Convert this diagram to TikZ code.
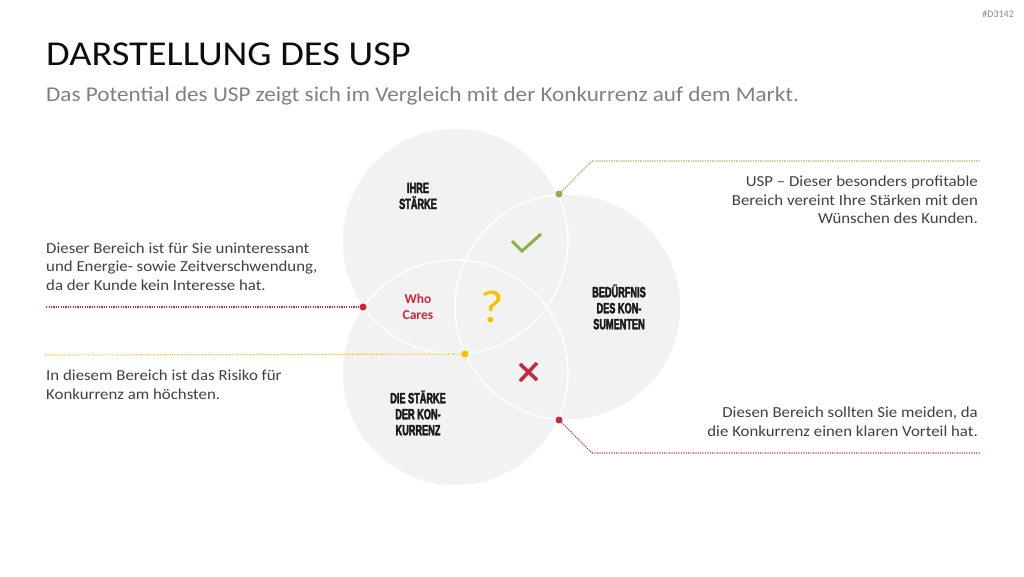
\documentclass[tikz,border=0pt]{standalone}
\usepackage{fontspec}
\setmainfont{Carlito}
\newfontfamily\leichtfont[FakeStretch=1.1]{Carlito}
\newfontfamily\kreisfont[FakeStretch=0.62, BoldFeatures={FakeBold=2.5}]{Liberation Sans}
\usepackage{xcolor}

\definecolor{kreisgrau}{HTML}{F2F2F2}
\definecolor{uspgruen}{HTML}{8CB04B}
\definecolor{warnrot}{HTML}{C8283C}
\definecolor{warngelb}{HTML}{F5C200}
\definecolor{textgrau}{HTML}{404040}

\tikzset{
  kreis/.style={fill=kreisgrau},
  kreisrand/.style={draw=white, line width=1.5pt},
  punkt/.style={circle, fill=#1, inner sep=0pt, minimum size=7pt},
  fuehrung/.style={draw=#1, line width=1.1pt, dash pattern=on 1.1pt off 1.3pt},
  kreistitel/.style={font=\kreisfont\bfseries\fontsize{14.8}{16}\selectfont,
    align=center, text=black!90, inner sep=0pt},
  infotext/.style={font=\leichtfont\fontsize{15.3}{18.5}\selectfont, text=textgrau, inner sep=0pt},
}

\begin{document}
\begin{tikzpicture}[x=1pt, y=-1pt]
  \useasboundingbox (0,0) rectangle (1024,576);

  % Kopfzeile
  \node[anchor=base west, inner sep=0pt, font=\leichtfont\fontsize{34.9}{40}\selectfont, text=black!95]
    (titel) at (46,65) {DARSTELLUNG DES USP};
  \node[anchor=base west, inner sep=0pt, font=\leichtfont\fontsize{21.05}{26}\selectfont, text=black!50]
    (untertitel) at (46,101) {Das Potential des USP zeigt sich im Vergleich mit der Konkurrenz auf dem Markt.};
  \node[anchor=base east, inner sep=0pt, font=\fontsize{10}{12}\selectfont, text=black!45]
    (kennung) at (1014,17) {\#D3142};

  % Mittelpunkte der drei Kreise
  \coordinate (mStaerke)    at (455,241);
  \coordinate (mBeduerfnis) at (568,307);
  \coordinate (mKonkurrenz) at (455,373);

  % Flaechen zuerst, weisse Raender darueber
  \foreach \m in {mStaerke,mBeduerfnis,mKonkurrenz}{
    \fill[kreis] (\m) circle[radius=113];
  }
  \foreach \m in {mStaerke,mBeduerfnis,mKonkurrenz}{
    \draw[kreisrand] (\m) circle[radius=113];
  }

  % Kreisbeschriftungen
  \node[kreistitel] (staerke)    at (418,196) {IHRE\\STÄRKE};
  \node[kreistitel] (beduerfnis) at (619,307) {BEDÜRFNIS\\DES KON-\\SUMENTEN};
  \node[kreistitel] (konkurrenz) at (418,413) {DIE STÄRKE\\DER KON-\\KURRENZ};

  % Schnittflaechen
  \node[font=\bfseries\fontsize{13.5}{16}\selectfont, text=warnrot, align=center, inner sep=0pt]
    (whocares) at (418,307) {Who\\Cares};
  \node[font=\leichtfont\fontsize{46}{46}\selectfont, text=warngelb, inner sep=0pt] (frage) at (492,307) {?};
  \draw[uspgruen, line width=3pt] (512,241) -- (522,251) -- (541,234);
  \draw[warnrot, line width=3.5pt] (520,364) -- (537,380) (537,363) -- (520,381);

  % Markierungspunkte auf den Schnittpunkten
  \node[punkt=uspgruen] (usp)    at (559,194) {};
  \node[punkt=warnrot]  (wc)     at (363,307) {};
  \node[punkt=warngelb] (risiko) at (465,354) {};
  \node[punkt=warnrot]  (meiden) at (559,420) {};

  % Endpunkte der Fuehrungslinien
  \coordinate (uspKnick)   at (592,161);
  \coordinate (uspEnde)    at (980,161);
  \coordinate (wcEnde)     at (45,307);
  \coordinate (risikoEnde) at (45,355);
  \coordinate (meidenKnick) at (592,453);
  \coordinate (meidenEnde)  at (980,453);

  \draw[fuehrung=uspgruen] (usp) -- (uspKnick) -- (uspEnde);
  \draw[fuehrung=warnrot]  (wc) -- (wcEnde);
  \draw[fuehrung=warngelb] (risiko) -- (risikoEnde);
  \draw[fuehrung=warnrot]  (meiden) -- (meidenKnick) -- (meidenEnde);

  % Erlaeuterungen
  \node[infotext, anchor=north east, align=right] (uspText) at (978,176)
    {USP – Dieser besonders profitable\\Bereich vereint Ihre Stärken mit den\\Wünschen des Kunden.};
  \node[infotext, anchor=north east, align=right] (meidenText) at (978,407)
    {Diesen Bereich sollten Sie meiden, da\\die Konkurrenz einen klaren Vorteil hat.};
  \node[infotext, anchor=north west, align=left] (wcText) at (46,242.5)
    {Dieser Bereich ist für Sie uninteressant\\und Energie- sowie Zeitverschwendung,\\da der Kunde kein Interesse hat.};
  \node[infotext, anchor=north west, align=left] (risikoText) at (46,370)
    {In diesem Bereich ist das Risiko für\\Konkurrenz am höchsten.};

\end{tikzpicture}
\end{document}
